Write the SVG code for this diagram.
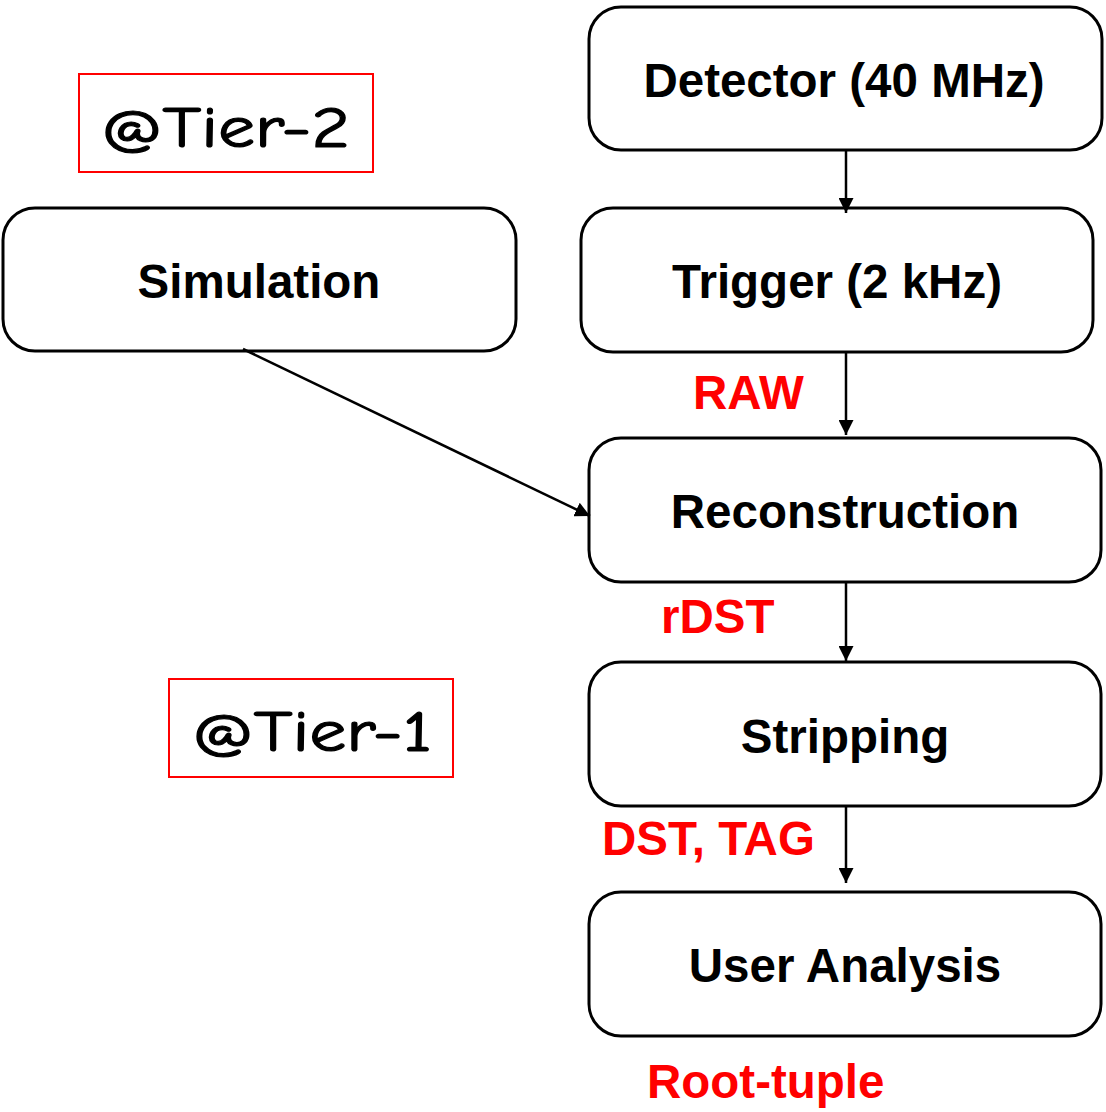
<svg xmlns="http://www.w3.org/2000/svg" width="1106" height="1112" viewBox="0 0 1106 1112">
<defs>
<style>
.box{fill:#fff;stroke:#000;stroke-width:3}
.lbl{font-family:"Liberation Sans",Arial,sans-serif;font-weight:bold;font-size:47.5px;fill:#000;text-anchor:middle}
.red{font-family:"Liberation Sans",Arial,sans-serif;font-weight:bold;font-size:47.5px;fill:#ff0000}
.tier{fill:#fff;stroke:#ff0000;stroke-width:2}
.tt{font-family:"Comic Sans MS","Comic Neue",cursive,sans-serif;font-size:58px;fill:#000;stroke:#000;stroke-width:1.2;stroke-linejoin:round}
.conn{stroke:#000;stroke-width:2.5;fill:none;marker-end:url(#ah)}
</style>
<marker id="ah" markerWidth="15" markerHeight="15" viewBox="0 0 15 15" refX="15" refY="7.5" orient="auto" markerUnits="userSpaceOnUse">
<path d="M0,0 L15,7.5 L0,15 Z" fill="#000"/>
</marker>
</defs>
<rect width="1106" height="1112" fill="#fff"/>
<g id="tier2"><rect class="tier" x="79" y="74" width="294" height="98"/><text class="tt" x="101" y="147" textLength="249" lengthAdjust="spacingAndGlyphs">@Tier-2</text></g>
<g id="tier1"><rect class="tier" x="169" y="679" width="284" height="98"/><text class="tt" x="192" y="751" textLength="240" lengthAdjust="spacingAndGlyphs">@Tier-1</text></g>
<g id="detector"><rect class="box" x="589" y="7" width="513" height="143" rx="32"/><text class="lbl" x="844" y="97">Detector (40 MHz)</text></g>
<g id="trigger"><rect class="box" x="581" y="208" width="512" height="144" rx="32"/><text class="lbl" x="837" y="298">Trigger (2 kHz)</text></g>
<g id="simulation"><rect class="box" x="3" y="208" width="513" height="143" rx="32"/><text class="lbl" x="259" y="298">Simulation</text></g>
<g id="reconstruction"><rect class="box" x="589" y="438" width="512" height="144" rx="32"/><text class="lbl" x="845" y="528">Reconstruction</text></g>
<g id="stripping"><rect class="box" x="589" y="662" width="512" height="144" rx="32"/><text class="lbl" x="845" y="753">Stripping</text></g>
<g id="useranalysis"><rect class="box" x="589" y="892" width="512" height="144" rx="32"/><text class="lbl" x="845" y="982">User Analysis</text></g>
<g id="connectors">
<line class="conn" x1="846" y1="150" x2="846" y2="213"/>
<line class="conn" x1="846" y1="352" x2="846" y2="435"/>
<line class="conn" x1="846" y1="582" x2="846" y2="661"/>
<line class="conn" x1="846" y1="806" x2="846" y2="883"/>
<line class="conn" x1="243" y1="349" x2="590" y2="516"/>
</g>
<g id="labels">
<text class="red" x="693" y="409">RAW</text>
<text class="red" x="661" y="633">rDST</text>
<text class="red" x="602" y="855">DST, TAG</text>
<text class="red" x="647" y="1098">Root-tuple</text>
</g>
</svg>
